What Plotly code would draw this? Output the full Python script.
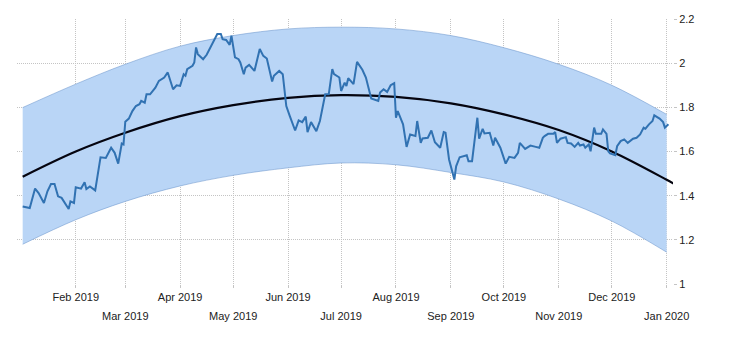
import plotly.graph_objects as go
import pandas as pd

BASE = pd.Timestamp("2019-01-01")

# --- daily series (day offset from 2019-01-01, value)
series_days = [1,5,8,10,13,15,17,19,21,23,27,28,30,31,34,36,37,39,42,45,48,51,53,55,57,58,59,61,63,65,67,68,70,71,73,76,78,81,83,86,88,90,92,93,94,97,98,99,100,103,105,108,111,113,114,116,118,119,121,123,124,126,127,129,132,135,137,139,142,143,146,148,150,152,155,157,159,161,162,164,167,169,171,172,174,176,177,180,181,183,184,185,188,190,193,195,198,200,202,203,205,207,209,211,212,213,216,218,220,223,224,226,227,230,232,234,237,239,240,242,245,246,248,252,253,255,258,259,261,262,265,267,268,271,274,276,279,281,282,285,288,291,293,295,296,298,301,302,303,305,308,309,311,313,315,316,318,319,321,322,324,325,327,328,329,331,332,333,336,337,339,341,343,346,348,350,352,353,355,357,358,361,363,364,366]
series_vals = [1.351,1.344,1.432,1.412,1.367,1.42,1.453,1.453,1.397,1.39,1.34,1.374,1.367,1.438,1.432,1.461,1.43,1.442,1.424,1.574,1.571,1.617,1.594,1.545,1.636,1.632,1.735,1.749,1.783,1.806,1.814,1.829,1.821,1.859,1.859,1.889,1.92,1.935,1.958,1.882,1.9,1.897,1.95,1.943,1.973,1.988,2.003,2.071,2.041,2.018,2.038,2.086,2.132,2.132,2.109,2.105,2.083,2.124,2.026,2.018,2.003,1.95,1.98,1.992,1.965,2.064,2.033,2.021,1.917,1.943,1.965,1.95,1.806,1.76,1.695,1.741,1.733,1.758,1.688,1.733,1.692,1.738,1.821,1.859,1.859,1.973,1.95,1.935,1.874,1.912,1.897,1.932,1.905,2.006,1.97,1.935,1.84,1.836,1.829,1.867,1.882,1.87,1.9,1.909,1.753,1.783,1.723,1.621,1.677,1.67,1.738,1.639,1.659,1.662,1.695,1.642,1.617,1.688,1.685,1.564,1.473,1.533,1.574,1.583,1.556,1.556,1.753,1.658,1.703,1.682,1.685,1.627,1.662,1.617,1.545,1.576,1.571,1.594,1.639,1.612,1.627,1.621,1.617,1.662,1.67,1.68,1.68,1.688,1.639,1.658,1.665,1.639,1.636,1.621,1.639,1.627,1.632,1.617,1.632,1.601,1.708,1.68,1.68,1.68,1.7,1.68,1.601,1.591,1.583,1.624,1.647,1.655,1.639,1.658,1.662,1.677,1.708,1.703,1.723,1.738,1.764,1.749,1.733,1.708,1.723]

# --- trend curve and band, read at month starts
trend_days = [1, 31, 59, 90, 120, 151, 181, 212, 243, 273, 304, 334, 365, 370]
trend_vals = [1.486, 1.600, 1.685, 1.760, 1.810, 1.843, 1.855, 1.847, 1.818, 1.768, 1.697, 1.600, 1.472, 1.450]

band_days = [1, 31, 59, 90, 120, 151, 181, 212, 243, 273, 304, 334, 365]
band_upper = [1.799, 1.905, 1.995, 2.077, 2.125, 2.155, 2.163, 2.155, 2.125, 2.070, 1.995, 1.900, 1.768]
band_lower = [1.180, 1.291, 1.374, 1.444, 1.492, 1.526, 1.548, 1.540, 1.505, 1.462, 1.385, 1.285, 1.144]

# --- tick labels
row1_ticks = ["2019-02-01", "2019-04-01", "2019-06-01", "2019-08-01", "2019-10-01", "2019-12-01"]
row1_text = ["Feb 2019", "Apr 2019", "Jun 2019", "Aug 2019", "Oct 2019", "Dec 2019"]
row2_ticks = ["2019-03-01", "2019-05-01", "2019-07-01", "2019-09-01", "2019-11-01", "2020-01-01"]
row2_text = ["Mar 2019", "May 2019", "Jul 2019", "Sep 2019", "Nov 2019", "Jan 2020"]
y_ticks = [1, 1.2, 1.4, 1.6, 1.8, 2, 2.2]
y_text = ["1", "1.2", "1.4", "1.6", "1.8", "2", "2.2"]


def to_dates(days):
    return [BASE + pd.Timedelta(days=d) for d in days]


X_RANGE = ["2018-12-29 19:00", "2020-01-04 14:00"]
FONT = dict(family="Liberation Sans, Arial, sans-serif", size=11, color="#222222")
GRID = "#c4c4c4"
DASH = "1px,1px"

fig = go.Figure()
fig.add_trace(go.Scatter(x=to_dates(band_days), y=band_lower, mode="lines",
                         line=dict(color="rgba(110,150,205,0.7)", width=0.8, shape="spline"),
                         hoverinfo="skip", showlegend=False))
fig.add_trace(go.Scatter(x=to_dates(band_days), y=band_upper, mode="lines",
                         line=dict(color="rgba(110,150,205,0.7)", width=0.8, shape="spline"),
                         fill="tonexty", fillcolor="rgb(185,213,246)",
                         hoverinfo="skip", showlegend=False))
fig.add_trace(go.Scatter(x=to_dates(trend_days), y=trend_vals, mode="lines",
                         line=dict(color="#050510", width=2.2, shape="spline"),
                         showlegend=False))
fig.add_trace(go.Scatter(x=to_dates(series_days), y=series_vals, mode="lines",
                         line=dict(color="#3172b2", width=2),
                         xaxis="x2", showlegend=False))

axis_common = dict(range=X_RANGE, type="date", showgrid=True, gridcolor=GRID,
                   griddash=DASH, gridwidth=1, zeroline=False, showline=False,
                   ticks="outside", ticklen=3, tickcolor=GRID, tickfont=FONT,
                   fixedrange=True)

fig.update_layout(
    width=730, height=340,
    margin=dict(l=17, r=57, t=19, b=56),
    paper_bgcolor="white", plot_bgcolor="white",
    showlegend=False,
    xaxis=dict(**axis_common, tickmode="array", tickvals=row1_ticks, ticktext=row1_text),
    xaxis2=dict(**axis_common, tickmode="array", tickvals=row2_ticks, ticktext=row2_text,
                overlaying="x", side="bottom", ticklabelstandoff=19),
    yaxis=dict(range=[1, 2.2], side="right", tickmode="array", tickvals=y_ticks,
               ticktext=y_text, showgrid=True, gridcolor=GRID, griddash=DASH,
               zeroline=False, showline=False, ticks="outside", ticklen=3,
               tickcolor=GRID, tickfont=FONT, fixedrange=True),
)

fig.write_html("out.html")
